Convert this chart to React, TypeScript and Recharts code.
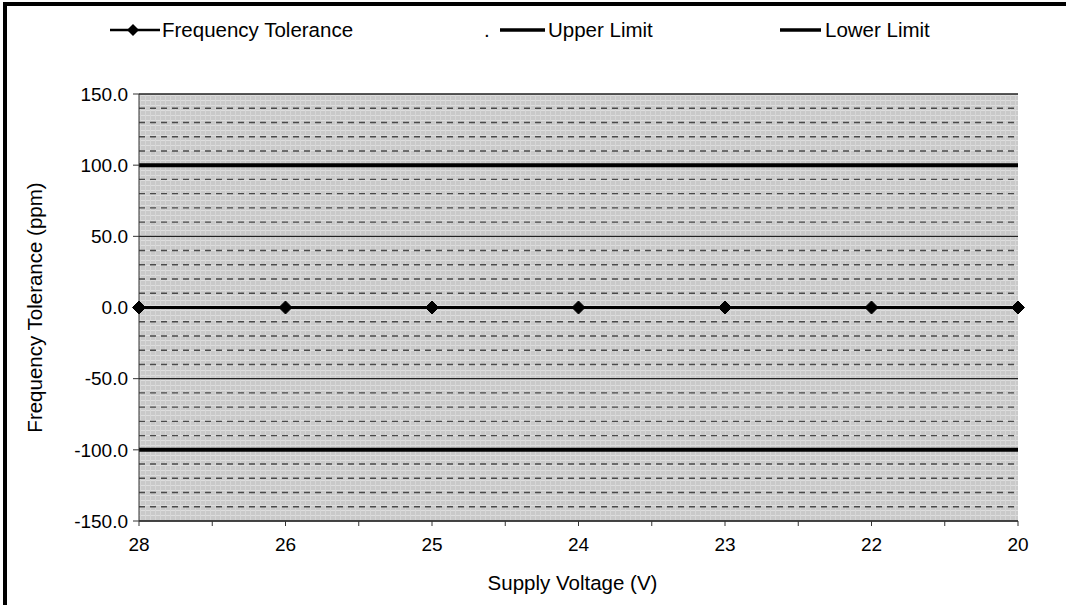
import { LineChart, Line, XAxis, YAxis, CartesianGrid, Legend, Label, ReferenceLine } from "recharts";

// Supply voltage steps (V), left to right as printed
const voltages = ["28", "26", "25", "24", "23", "22", "20"];
// Measured frequency tolerance (ppm)
const freqTolerance = [0, 0, 0, 0, 0, 0, 0];
// Spec limits (ppm)
const upperLimit = [100, 100, 100, 100, 100, 100, 100];
const lowerLimit = [-100, -100, -100, -100, -100, -100, -100];

const yTicks = [-150, -100, -50, 0, 50, 100, 150];
const yMinorTicks = [-140, -130, -120, -110, -90, -80, -70, -60, -40, -30, -20, -10, 10, 20, 30, 40, 60, 70, 80, 90, 110, 120, 130, 140];
const xTicks = [0, 0.5, 1, 1.5, 2, 2.5, 3, 3.5, 4, 4.5, 5, 5.5, 6];

const FONT = "'Liberation Sans', Arial, sans-serif";

const data = voltages.map((v, i) => ({
  idx: i,
  voltage: v,
  tolerance: freqTolerance[i],
  upper: upperLimit[i],
  lower: lowerLimit[i],
}));

const Diamond = (props: any) => {
  const { cx, cy } = props;
  if (cx == null || cy == null) return null;
  const r = 6.5;
  return (
    <polygon
      points={`${cx},${cy - r} ${cx + r},${cy} ${cx},${cy + r} ${cx - r},${cy}`}
      fill="#000"
      stroke="#000"
    />
  );
};

const LegendContent = () => (
  <div style={{ position: "relative", height: 24, width: 1000, fontFamily: FONT, fontSize: 20.5, color: "#000" }}>
    <svg width={1000} height={24} style={{ position: "absolute", left: 0, top: 0 }}>
      <line x1={110} y1={12} x2={160} y2={12} stroke="#000" strokeWidth={2.5} />
      <polygon points="133,6 139,12 133,18 127,12" fill="#000" />
      <line x1={500} y1={12} x2={545} y2={12} stroke="#000" strokeWidth={3.5} />
      <line x1={780} y1={12} x2={821} y2={12} stroke="#000" strokeWidth={3.5} />
    </svg>
    <span style={{ position: "absolute", left: 162, top: 0, lineHeight: "24px" }}>Frequency Tolerance</span>
    <span style={{ position: "absolute", left: 484, top: 0, lineHeight: "24px" }}>.</span>
    <span style={{ position: "absolute", left: 548, top: 0, lineHeight: "24px" }}>Upper Limit</span>
    <span style={{ position: "absolute", left: 825, top: 0, lineHeight: "24px" }}>Lower Limit</span>
  </div>
);

export default function App() {
  return (
    <div style={{ position: "absolute", left: 0, top: 0, width: 1066, height: 605, background: "#fff", overflow: "hidden" }}>
      <div style={{ position: "absolute", left: 0, top: 0 }}>
        <LineChart width={1066} height={605} data={data} margin={{ top: 70, right: 48, bottom: 0, left: 0 }}>
          <defs>
            <pattern id="stipple" width="5" height="5" patternUnits="userSpaceOnUse">
              <rect width="5" height="5" fill="#c9c9c9" />
              <line x1="0" y1="0.5" x2="5" y2="0.5" stroke="#dedede" strokeWidth="1" />
              <line x1="0.5" y1="0" x2="0.5" y2="5" stroke="#d6d6d6" strokeWidth="1" />
            </pattern>
          </defs>
          <Legend
            verticalAlign="top"
            content={LegendContent}
            wrapperStyle={{ top: 18, left: 0, width: 1000, height: 24 }}
          />
          <CartesianGrid fill="url(#stipple)" vertical={false} horizontal={false} />
          <CartesianGrid vertical={false} stroke="#222" strokeWidth={1.3} />
          <XAxis
            dataKey="idx"
            type="number"
            domain={[0, 6]}
            ticks={xTicks}
            tickFormatter={(v: number) => (Number.isInteger(v) ? voltages[v] : "")}
            interval={0}
            height={84}
            tickSize={5}
            tickMargin={12}
            stroke="#333"
            tick={{ fill: "#000", fontSize: 19, fontFamily: FONT }}
          >
            <Label
              value="Supply Voltage (V)"
              position="insideBottom"
              offset={15}
              dx={-6}
              style={{ fill: "#000", fontSize: 20.5, fontFamily: FONT }}
            />
          </XAxis>
          <YAxis
            domain={[-150, 150]}
            ticks={yTicks}
            interval={0}
            width={139}
            tickSize={6}
            tickMargin={5}
            stroke="#333"
            tickFormatter={(v: number) => v.toFixed(1)}
            tick={{ fill: "#000", fontSize: 19, fontFamily: FONT }}
          >
            <Label
              value="Frequency Tolerance (ppm)"
              angle={-90}
              position="insideLeft"
              offset={35}
              style={{ fill: "#000", fontSize: 20.5, fontFamily: FONT, textAnchor: "middle" }}
            />
          </YAxis>
          {yMinorTicks.map((t) => (
            <ReferenceLine key={t} y={t} stroke="#4a4a4a" strokeWidth={1.4} strokeDasharray="6 5" />
          ))}
          <Line
            dataKey="upper"
            name="Upper Limit"
            stroke="#000"
            strokeWidth={4}
            dot={false}
            isAnimationActive={false}
          />
          <Line
            dataKey="lower"
            name="Lower Limit"
            stroke="#000"
            strokeWidth={4}
            dot={false}
            isAnimationActive={false}
          />
          <Line
            dataKey="tolerance"
            name="Frequency Tolerance"
            stroke="#000"
            strokeWidth={3}
            dot={<Diamond />}
            isAnimationActive={false}
          />
        </LineChart>
      </div>
      {/* scanned frame: only top and left edges are visible */}
      <div style={{ position: "absolute", left: 3, top: 2, width: 1063, height: 4, background: "#000" }} />
      <div style={{ position: "absolute", left: 3, top: 2, width: 4, height: 603, background: "#000" }} />
    </div>
  );
}
